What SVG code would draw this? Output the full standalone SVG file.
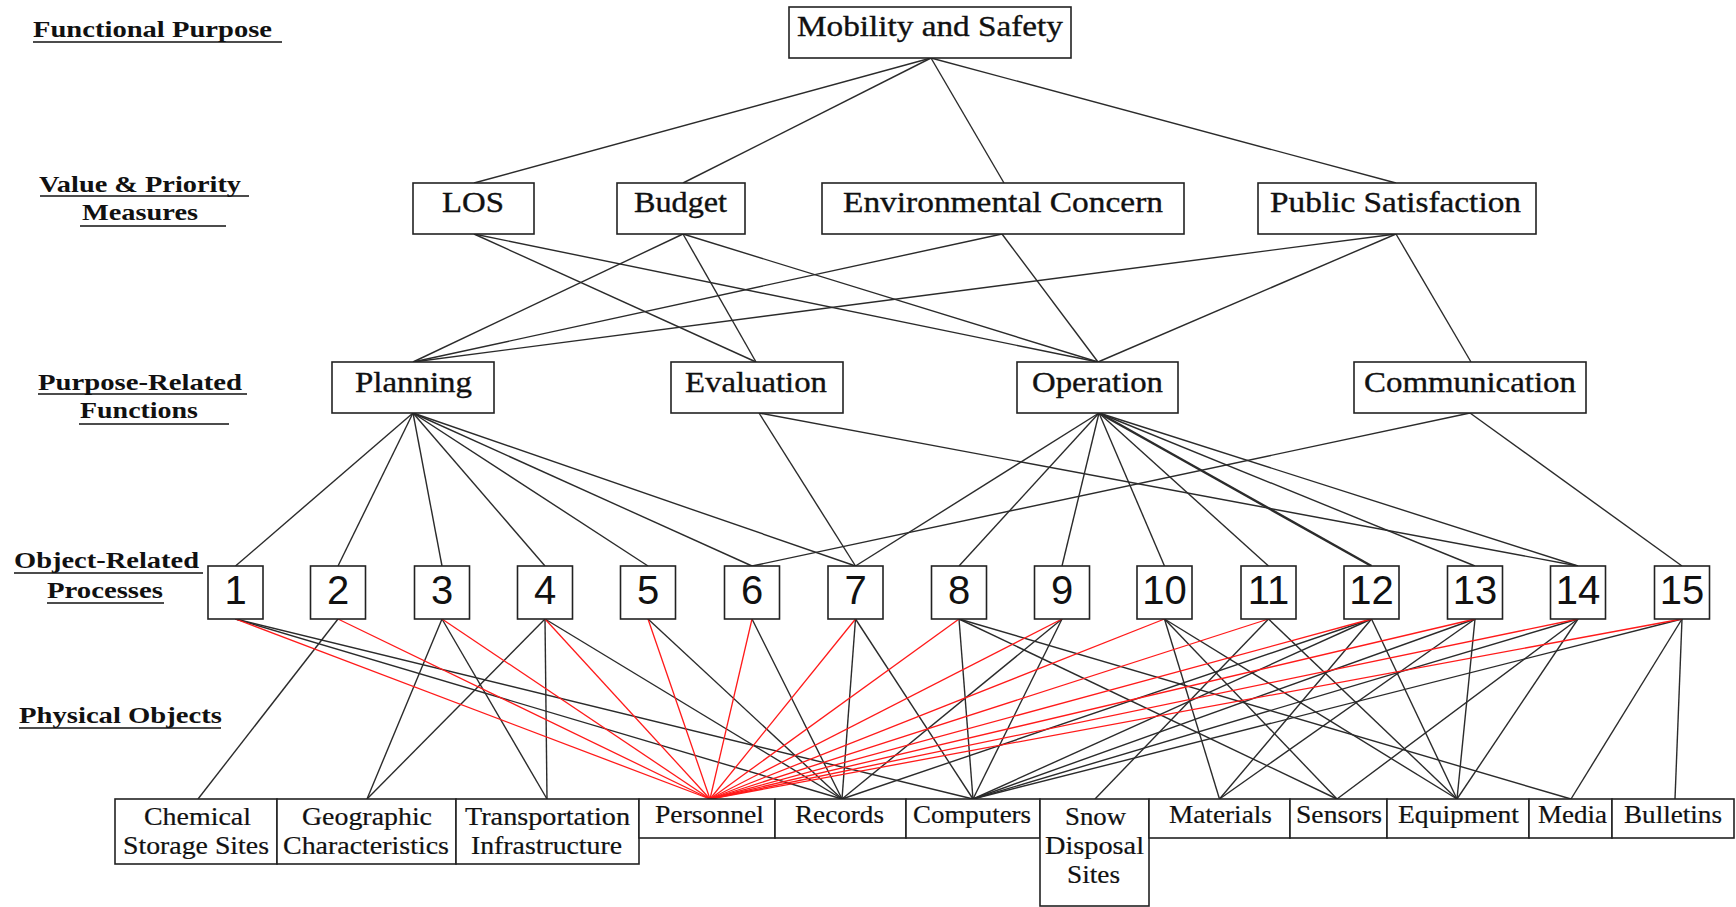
<svg xmlns="http://www.w3.org/2000/svg" width="1736" height="907" viewBox="0 0 1736 907">
<style>
.bg{fill:#ffffff}
.box{fill:#ffffff;stroke:#222;stroke-width:1.6}
.ln{stroke:#2b2b2b;stroke-width:1.4;fill:none}
.red{stroke:#ff1a1a;stroke-width:1.3;fill:none}
.ul{stroke:#111;stroke-width:1.6}
.lab{font-family:"Liberation Serif","Times New Roman",serif;font-weight:bold;font-size:24px;fill:#111}
.nt{font-family:"Liberation Serif","Times New Roman",serif;font-size:29px;fill:#111;stroke:#111;stroke-width:0.35}
.num{font-family:"Liberation Sans",Arial,sans-serif;font-size:40px;fill:#111;text-anchor:middle}
.pt{font-family:"Liberation Serif","Times New Roman",serif;font-size:25px;fill:#111;stroke:#111;stroke-width:0.2}
</style>
<rect class="bg" x="0" y="0" width="1736" height="907"/>

<g id="level-labels">
  <text class="lab" x="33" y="37" textLength="239" lengthAdjust="spacingAndGlyphs">Functional Purpose</text>
  <line class="ul" x1="33" y1="42" x2="282" y2="42"/>
  <text class="lab" x="39" y="192" textLength="202" lengthAdjust="spacingAndGlyphs">Value &amp; Priority</text>
  <line class="ul" x1="40" y1="196" x2="249" y2="196"/>
  <text class="lab" x="82" y="220" textLength="116" lengthAdjust="spacingAndGlyphs">Measures</text>
  <line class="ul" x1="80" y1="226" x2="226" y2="226"/>
  <text class="lab" x="38" y="390" textLength="204" lengthAdjust="spacingAndGlyphs">Purpose-Related</text>
  <line class="ul" x1="38" y1="394" x2="247" y2="394"/>
  <text class="lab" x="80" y="418" textLength="118" lengthAdjust="spacingAndGlyphs">Functions</text>
  <line class="ul" x1="79" y1="424" x2="229" y2="424"/>
  <text class="lab" x="14" y="568" textLength="185" lengthAdjust="spacingAndGlyphs">Object-Related</text>
  <line class="ul" x1="14" y1="573" x2="203" y2="573"/>
  <text class="lab" x="47" y="598" textLength="116" lengthAdjust="spacingAndGlyphs">Processes</text>
  <line class="ul" x1="47" y1="603" x2="164" y2="603"/>
  <text class="lab" x="19" y="723" textLength="203" lengthAdjust="spacingAndGlyphs">Physical Objects</text>
  <line class="ul" x1="19" y1="728" x2="221" y2="728"/>
</g>

<g id="connectors">
  <!-- level 1 to 2 -->
  <line class="ln" x1="931" y1="58" x2="474" y2="183"/>
  <line class="ln" x1="931" y1="58" x2="683" y2="183"/>
  <line class="ln" x1="931" y1="58" x2="1004" y2="183"/>
  <line class="ln" x1="931" y1="58" x2="1396" y2="183"/>
  <!-- level 2 to 3 -->
  <line class="ln" x1="474" y1="234" x2="756" y2="362"/>
  <line class="ln" x1="474" y1="234" x2="1098" y2="362"/>
  <line class="ln" x1="683" y1="234" x2="413" y2="362"/>
  <line class="ln" x1="683" y1="234" x2="756" y2="362"/>
  <line class="ln" x1="683" y1="234" x2="1098" y2="362"/>
  <line class="ln" x1="1002" y1="234" x2="413" y2="362"/>
  <line class="ln" x1="1002" y1="234" x2="1098" y2="362"/>
  <line class="ln" x1="1396" y1="234" x2="413" y2="362"/>
  <line class="ln" x1="1396" y1="234" x2="1098" y2="362"/>
  <line class="ln" x1="1396" y1="234" x2="1471" y2="362"/>
  <!-- level 3 to 4 -->
  <line class="ln" x1="413" y1="413" x2="235.5" y2="566"/>
  <line class="ln" x1="413" y1="413" x2="338" y2="566"/>
  <line class="ln" x1="413" y1="413" x2="442" y2="566"/>
  <line class="ln" x1="413" y1="413" x2="545" y2="566"/>
  <line class="ln" x1="413" y1="413" x2="648" y2="566"/>
  <line class="ln" x1="413" y1="413" x2="752" y2="566"/>
  <line class="ln" x1="413" y1="413" x2="855.5" y2="566"/>
  <line class="ln" x1="759" y1="413" x2="855.5" y2="566"/>
  <line class="ln" x1="759" y1="413" x2="1578" y2="566"/>
  <line class="ln" x1="1099" y1="413" x2="855.5" y2="566"/>
  <line class="ln" x1="1099" y1="413" x2="959" y2="566"/>
  <line class="ln" x1="1099" y1="413" x2="1062" y2="566"/>
  <line class="ln" x1="1099" y1="413" x2="1164.5" y2="566"/>
  <line class="ln" x1="1099" y1="413" x2="1268.5" y2="566"/>
  <line class="ln" x1="1099" y1="413" x2="1371.5" y2="566" style="stroke-width:2.4"/>
  <line class="ln" x1="1099" y1="413" x2="1475" y2="566"/>
  <line class="ln" x1="1099" y1="413" x2="1578" y2="566"/>
  <line class="ln" x1="1470" y1="413" x2="752" y2="566"/>
  <line class="ln" x1="1470" y1="413" x2="1682" y2="566"/>
  <!-- level 4 to 5 black -->
  <line class="ln" x1="235.5" y1="619" x2="842" y2="799"/>
  <line class="ln" x1="235.5" y1="619" x2="973" y2="799"/>
  <line class="ln" x1="338" y1="619" x2="198" y2="799"/>
  <line class="ln" x1="442" y1="619" x2="367" y2="799"/>
  <line class="ln" x1="442" y1="619" x2="547" y2="799"/>
  <line class="ln" x1="545" y1="619" x2="367" y2="799"/>
  <line class="ln" x1="545" y1="619" x2="547" y2="799"/>
  <line class="ln" x1="545" y1="619" x2="842" y2="799"/>
  <line class="ln" x1="648" y1="619" x2="842" y2="799"/>
  <line class="ln" x1="752" y1="619" x2="842" y2="799"/>
  <line class="ln" x1="855.5" y1="619" x2="842" y2="799"/>
  <line class="ln" x1="855.5" y1="619" x2="973" y2="799"/>
  <line class="ln" x1="959" y1="619" x2="973" y2="799"/>
  <line class="ln" x1="959" y1="619" x2="1337" y2="799"/>
  <line class="ln" x1="959" y1="619" x2="1571" y2="799"/>
  <line class="ln" x1="1062" y1="619" x2="842" y2="799"/>
  <line class="ln" x1="1062" y1="619" x2="973" y2="799"/>
  <line class="ln" x1="1164.5" y1="619" x2="1219.5" y2="799"/>
  <line class="ln" x1="1164.5" y1="619" x2="1337" y2="799"/>
  <line class="ln" x1="1164.5" y1="619" x2="1457" y2="799"/>
  <line class="ln" x1="1268.5" y1="619" x2="1095" y2="799"/>
  <line class="ln" x1="1268.5" y1="619" x2="1457" y2="799"/>
  <line class="ln" x1="1371.5" y1="619" x2="842" y2="799"/>
  <line class="ln" x1="1371.5" y1="619" x2="973" y2="799"/>
  <line class="ln" x1="1371.5" y1="619" x2="1219.5" y2="799"/>
  <line class="ln" x1="1371.5" y1="619" x2="1457" y2="799"/>
  <line class="ln" x1="1475" y1="619" x2="973" y2="799"/>
  <line class="ln" x1="1475" y1="619" x2="1219.5" y2="799"/>
  <line class="ln" x1="1475" y1="619" x2="1457" y2="799"/>
  <line class="ln" x1="1578" y1="619" x2="973" y2="799"/>
  <line class="ln" x1="1578" y1="619" x2="1337" y2="799"/>
  <line class="ln" x1="1578" y1="619" x2="1457" y2="799"/>
  <line class="ln" x1="1682" y1="619" x2="973" y2="799"/>
  <line class="ln" x1="1682" y1="619" x2="1571" y2="799"/>
  <line class="ln" x1="1682" y1="619" x2="1675" y2="799"/>
  <!-- level 4 to Personnel red -->
  <line class="red" x1="235.5" y1="619" x2="710" y2="799"/>
  <line class="red" x1="338" y1="619" x2="710" y2="799"/>
  <line class="red" x1="442" y1="619" x2="710" y2="799"/>
  <line class="red" x1="545" y1="619" x2="710" y2="799"/>
  <line class="red" x1="648" y1="619" x2="710" y2="799"/>
  <line class="red" x1="752" y1="619" x2="710" y2="799"/>
  <line class="red" x1="855.5" y1="619" x2="710" y2="799"/>
  <line class="red" x1="959" y1="619" x2="710" y2="799"/>
  <line class="red" x1="1062" y1="619" x2="710" y2="799"/>
  <line class="red" x1="1164.5" y1="619" x2="710" y2="799"/>
  <line class="red" x1="1268.5" y1="619" x2="710" y2="799"/>
  <line class="red" x1="1371.5" y1="619" x2="710" y2="799"/>
  <line class="red" x1="1475" y1="619" x2="710" y2="799"/>
  <line class="red" x1="1578" y1="619" x2="710" y2="799"/>
  <line class="red" x1="1682" y1="619" x2="710" y2="799"/>
</g>

<g id="n-mobility"><rect class="box" x="789" y="7" width="282" height="51"/><text class="nt" x="797" y="36" textLength="266" lengthAdjust="spacingAndGlyphs">Mobility and Safety</text></g>

<g id="n-los"><rect class="box" x="413" y="183" width="121" height="51"/><text class="nt" x="442" y="212" textLength="62" lengthAdjust="spacingAndGlyphs">LOS</text></g>
<g id="n-budget"><rect class="box" x="617" y="183" width="128" height="51"/><text class="nt" x="634" y="212" textLength="93" lengthAdjust="spacingAndGlyphs">Budget</text></g>
<g id="n-env"><rect class="box" x="822" y="183" width="362" height="51"/><text class="nt" x="843" y="212" textLength="320" lengthAdjust="spacingAndGlyphs">Environmental Concern</text></g>
<g id="n-public"><rect class="box" x="1258" y="183" width="278" height="51"/><text class="nt" x="1270" y="212" textLength="251" lengthAdjust="spacingAndGlyphs">Public Satisfaction</text></g>

<g id="n-planning"><rect class="box" x="332" y="362" width="162" height="51"/><text class="nt" x="355" y="392" textLength="117" lengthAdjust="spacingAndGlyphs">Planning</text></g>
<g id="n-evaluation"><rect class="box" x="671" y="362" width="172" height="51"/><text class="nt" x="685" y="392" textLength="142" lengthAdjust="spacingAndGlyphs">Evaluation</text></g>
<g id="n-operation"><rect class="box" x="1017" y="362" width="161" height="51"/><text class="nt" x="1032" y="392" textLength="131" lengthAdjust="spacingAndGlyphs">Operation</text></g>
<g id="n-communication"><rect class="box" x="1354" y="362" width="232" height="51"/><text class="nt" x="1364" y="392" textLength="212" lengthAdjust="spacingAndGlyphs">Communication</text></g>

<g id="p1"><rect class="box" x="208" y="566" width="55" height="53"/><text class="num" x="235.5" y="604">1</text></g>
<g id="p2"><rect class="box" x="310.5" y="566" width="55" height="53"/><text class="num" x="338" y="604">2</text></g>
<g id="p3"><rect class="box" x="414.5" y="566" width="55" height="53"/><text class="num" x="442" y="604">3</text></g>
<g id="p4"><rect class="box" x="517.5" y="566" width="55" height="53"/><text class="num" x="545" y="604">4</text></g>
<g id="p5"><rect class="box" x="620.5" y="566" width="55" height="53"/><text class="num" x="648" y="604">5</text></g>
<g id="p6"><rect class="box" x="724.5" y="566" width="55" height="53"/><text class="num" x="752" y="604">6</text></g>
<g id="p7"><rect class="box" x="828" y="566" width="55" height="53"/><text class="num" x="855.5" y="604">7</text></g>
<g id="p8"><rect class="box" x="931.5" y="566" width="55" height="53"/><text class="num" x="959" y="604">8</text></g>
<g id="p9"><rect class="box" x="1034.5" y="566" width="55" height="53"/><text class="num" x="1062" y="604">9</text></g>
<g id="p10"><rect class="box" x="1137" y="566" width="55" height="53"/><text class="num" x="1164.5" y="604">10</text></g>
<g id="p11"><rect class="box" x="1241" y="566" width="55" height="53"/><text class="num" x="1268.5" y="604">11</text></g>
<g id="p12"><rect class="box" x="1344" y="566" width="55" height="53"/><text class="num" x="1371.5" y="604">12</text></g>
<g id="p13"><rect class="box" x="1447.5" y="566" width="55" height="53"/><text class="num" x="1475" y="604">13</text></g>
<g id="p14"><rect class="box" x="1550.5" y="566" width="55" height="53"/><text class="num" x="1578" y="604">14</text></g>
<g id="p15"><rect class="box" x="1654.5" y="566" width="55" height="53"/><text class="num" x="1682" y="604">15</text></g>

<g id="o-chemical"><rect class="box" x="115" y="799" width="162" height="65"/><text class="pt" x="144" y="825" textLength="107" lengthAdjust="spacingAndGlyphs">Chemical</text><text class="pt" x="123" y="854" textLength="146" lengthAdjust="spacingAndGlyphs">Storage Sites</text></g>
<g id="o-geographic"><rect class="box" x="277" y="799" width="179" height="65"/><text class="pt" x="302" y="825" textLength="130" lengthAdjust="spacingAndGlyphs">Geographic</text><text class="pt" x="283" y="854" textLength="166" lengthAdjust="spacingAndGlyphs">Characteristics</text></g>
<g id="o-transportation"><rect class="box" x="456" y="799" width="183" height="65"/><text class="pt" x="465" y="825" textLength="165" lengthAdjust="spacingAndGlyphs">Transportation</text><text class="pt" x="471" y="854" textLength="151" lengthAdjust="spacingAndGlyphs">Infrastructure</text></g>
<g id="o-personnel"><rect class="box" x="639" y="799" width="136" height="39"/><text class="pt" x="655" y="823" textLength="109" lengthAdjust="spacingAndGlyphs">Personnel</text></g>
<g id="o-records"><rect class="box" x="775" y="799" width="131" height="39"/><text class="pt" x="795" y="823" textLength="89" lengthAdjust="spacingAndGlyphs">Records</text></g>
<g id="o-computers"><rect class="box" x="906" y="799" width="134" height="39"/><text class="pt" x="913" y="823" textLength="118" lengthAdjust="spacingAndGlyphs">Computers</text></g>
<g id="o-snow"><rect class="box" x="1040" y="799" width="109" height="107"/><text class="pt" x="1065" y="825" textLength="61" lengthAdjust="spacingAndGlyphs">Snow</text><text class="pt" x="1045" y="854" textLength="99" lengthAdjust="spacingAndGlyphs">Disposal</text><text class="pt" x="1067" y="883" textLength="53" lengthAdjust="spacingAndGlyphs">Sites</text></g>
<g id="o-materials"><rect class="box" x="1149" y="799" width="141" height="39"/><text class="pt" x="1169" y="823" textLength="103" lengthAdjust="spacingAndGlyphs">Materials</text></g>
<g id="o-sensors"><rect class="box" x="1290" y="799" width="97" height="39"/><text class="pt" x="1296" y="823" textLength="86" lengthAdjust="spacingAndGlyphs">Sensors</text></g>
<g id="o-equipment"><rect class="box" x="1387" y="799" width="142" height="39"/><text class="pt" x="1398" y="823" textLength="121" lengthAdjust="spacingAndGlyphs">Equipment</text></g>
<g id="o-media"><rect class="box" x="1529" y="799" width="83" height="39"/><text class="pt" x="1538" y="823" textLength="69" lengthAdjust="spacingAndGlyphs">Media</text></g>
<g id="o-bulletins"><rect class="box" x="1612" y="799" width="122" height="39"/><text class="pt" x="1624" y="823" textLength="98" lengthAdjust="spacingAndGlyphs">Bulletins</text></g>
</svg>
